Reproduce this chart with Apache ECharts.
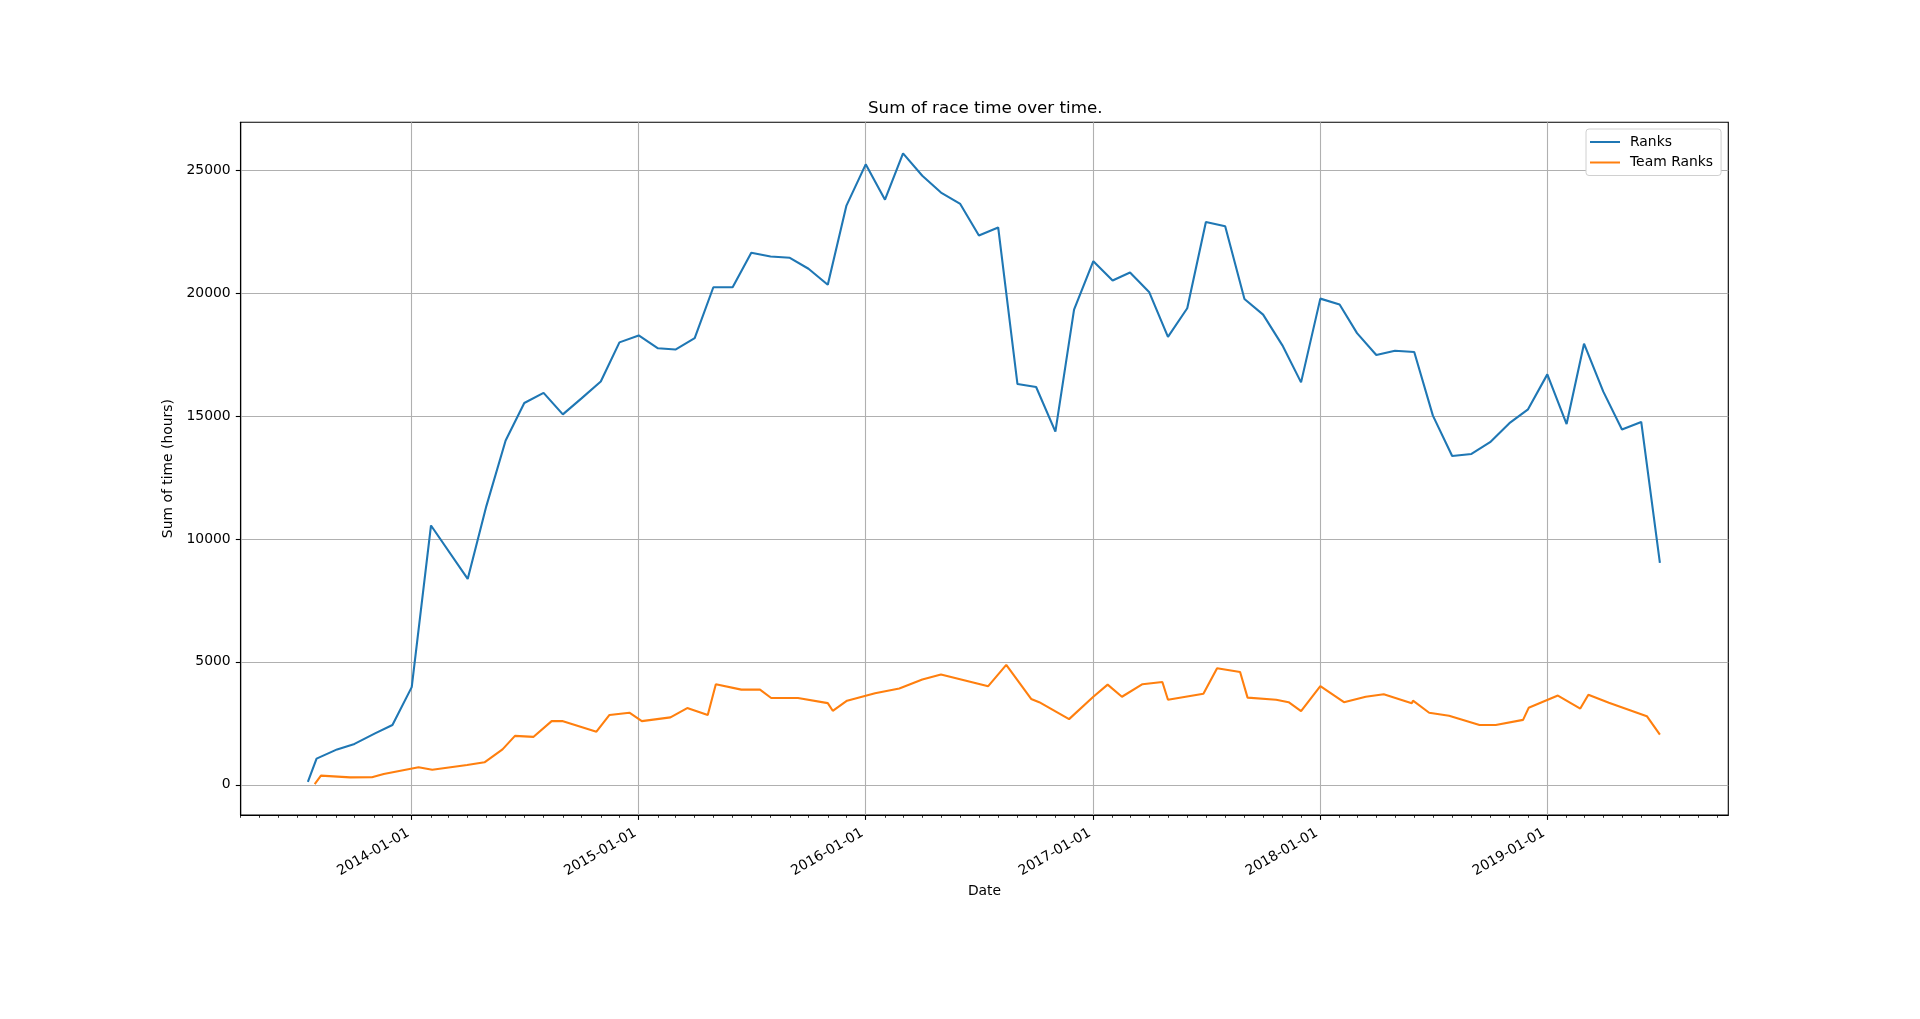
<!DOCTYPE html>
<html>
<head>
<meta charset="utf-8">
<script src="https://cdn.jsdelivr.net/npm/echarts@6/dist/echarts.min.js"></script>
<style>
html,body{margin:0;padding:0;background:#fff;}
#chart{width:1920px;height:1019px;}
</style>
</head>
<body>
<div id="chart"></div>
<script>
const rankDates = ['2013-07-18','2013-08-01','2013-09-03','2013-10-01','2013-11-03','2013-12-01',
  '2014-01-01','2014-02-01','2014-04-01','2014-05-01','2014-06-01','2014-07-01','2014-08-01','2014-09-01','2014-10-01','2014-11-01','2014-12-01',
  '2015-01-01','2015-02-01','2015-03-01','2015-04-01','2015-05-01','2015-06-01','2015-07-01','2015-08-01','2015-09-01','2015-10-01','2015-11-01','2015-12-01',
  '2016-01-01','2016-02-01','2016-03-01','2016-04-01','2016-05-01','2016-06-01','2016-07-01','2016-08-01','2016-09-01','2016-10-01','2016-11-01','2016-12-01',
  '2017-01-01','2017-02-01','2017-03-01','2017-04-01','2017-05-01','2017-06-01','2017-07-01','2017-08-01','2017-09-01','2017-10-01','2017-11-01','2017-12-01',
  '2018-01-01','2018-02-01','2018-03-01','2018-04-01','2018-05-01','2018-06-01','2018-07-01','2018-08-01','2018-09-01','2018-10-01','2018-11-01','2018-12-01',
  '2019-01-01','2019-02-01','2019-03-01','2019-04-01','2019-05-01','2019-06-01','2019-07-01'];
const rankValues = [120,1062,1438,1661,2089,2432,
  3973,10548,8374,11336,14007,15531,15942,15068,15719,16404,17997,
  18280,17757,17705,18168,20240,20240,21644,21490,21438,20993,20342,23562,
  25240,23801,25685,24777,24092,23630,22346,22671,16301,16182,14366,19332,
  21301,20514,20839,20034,18219,19384,22894,22723,19760,19127,17877,16370,
  19777,19538,18373,17483,17654,17603,15017,13373,13459,13938,14709,15274,
  16695,14675,17945,15993,14452,14760,9024];

const teamDates = ['2013-07-29','2013-08-08','2013-09-24','2013-10-29','2013-11-17',
  '2014-01-12','2014-02-03','2014-03-31','2014-04-28','2014-05-27','2014-06-16','2014-07-16','2014-08-14','2014-08-31','2014-10-25','2014-11-15','2014-12-17',
  '2015-01-06','2015-02-21','2015-03-20','2015-04-22','2015-05-05','2015-06-15','2015-07-15','2015-08-02','2015-09-14','2015-11-01','2015-11-09','2015-12-02',
  '2016-01-16','2016-02-24','2016-04-01','2016-05-01','2016-07-16','2016-08-14','2016-09-23','2016-10-06','2016-11-23',
  '2017-01-01','2017-01-24','2017-02-16','2017-03-21','2017-04-22','2017-05-01','2017-06-27','2017-07-19','2017-08-25','2017-09-06','2017-10-22','2017-11-11','2017-12-01',
  '2018-01-01','2018-02-08','2018-03-15','2018-04-13','2018-05-28','2018-05-30','2018-06-25','2018-07-27','2018-09-14','2018-10-10','2018-11-23','2018-12-02',
  '2019-01-18','2019-02-23','2019-03-08','2019-04-10','2019-06-10','2019-07-01'];
const teamValues = [30,370,300,305,440,
  712,614,805,915,1440,1990,1950,2590,2590,2160,2840,2930,
  2590,2740,3120,2840,4090,3870,3870,3530,3530,3320,3010,3420,
  3720,3920,4280,4490,4010,4880,3490,3360,2670,
  3580,4075,3580,4090,4180,3460,3700,4740,4590,3545,3460,3360,3000,
  4010,3360,3580,3680,3320,3420,2930,2810,2430,2430,2640,3130,
  3630,3100,3660,3340,2790,2040];

const yTicks = [0,5000,10000,15000,20000,25000];
const yearTicks = ['2014-01-01','2015-01-01','2016-01-01','2017-01-01','2018-01-01','2019-01-01'];
const xMinDate = '2013-04-01';
const xMaxDate = '2019-10-19';
const yMin = -1230, yMax = 26950;

const ts = d => Date.parse(d);
const rankData = rankDates.map((d,i)=>[ts(d), rankValues[i]]);
const teamData = teamDates.map((d,i)=>[ts(d), teamValues[i]]);
const yearTs = yearTicks.map(ts);
const monthTs = [];
for (let y=2013; y<=2019; y++) for (let m=0; m<12; m++) {
  const t = Date.UTC(y,m,1);
  if (t >= ts(xMinDate) && t <= ts(xMaxDate)) monthTs.push(t);
}
function fmt(v){
  const d = new Date(v);
  const p = n => (n<10?'0':'')+n;
  return d.getUTCFullYear()+'-'+p(d.getUTCMonth()+1)+'-'+p(d.getUTCDate());
}
const FONT = 'DejaVu Sans';
const chart = echarts.init(document.getElementById('chart'), null, {renderer:'canvas'});
chart.setOption({
  animation:false,
  backgroundColor:'#fff',
  textStyle:{fontFamily:FONT},
  title:{text:'Sum of race time over time.', left:868, top:100, padding:0,
    textStyle:{fontFamily:FONT,fontSize:16.7,fontWeight:'normal',color:'#000'}},
  legend:{orient:'vertical', left:1586, top:129, padding:[6,8,6,4], itemGap:6.5,
    itemWidth:30, itemHeight:2, icon:'rect',
    borderColor:'#d0d0d0', borderWidth:1, borderRadius:3, backgroundColor:'#fff',
    textStyle:{fontFamily:FONT,fontSize:13.9,color:'#000',padding:[0,0,0,5]},
    data:['Ranks','Team Ranks']},
  grid:{left:240.7, right:191.7, top:122.3, bottom:204, show:true, borderColor:'#000', borderWidth:1.1, backgroundColor:'transparent'},
  xAxis:[{
    type:'value', min:ts(xMinDate), max:ts(xMaxDate), position:'bottom',
    name:'Date', nameLocation:'middle', nameGap:66,
    nameTextStyle:{fontFamily:FONT,fontSize:13.9,color:'#000'},
    axisLine:{show:true,onZero:false,lineStyle:{color:'#000',width:1.1}},
    axisTick:{show:true, customValues:yearTs, length:4.9, lineStyle:{color:'#000',width:1.1}},
    axisLabel:{show:true, customValues:yearTs, rotate:30, margin:15, formatter:fmt,
      fontFamily:FONT, fontSize:13.9, color:'#000', padding:[0,4,0,0]},
    splitLine:{show:true, lineStyle:{color:'#b0b0b0', width:1.1}}
  },{
    type:'value', min:ts(xMinDate), max:ts(xMaxDate), position:'bottom',
    axisLine:{show:false,onZero:false},
    axisTick:{show:true, customValues:monthTs, length:2.8, lineStyle:{color:'#000',width:0.8}},
    axisLabel:{show:false},
    splitLine:{show:false}
  }],
  yAxis:{
    type:'value', min:yMin, max:yMax,
    name:'Sum of time (hours)', nameLocation:'middle', nameGap:51,
    nameTextStyle:{fontFamily:FONT,fontSize:13.9,color:'#000'},
    axisLine:{show:true,onZero:false,lineStyle:{color:'#000',width:1.1}},
    axisTick:{show:true, customValues:yTicks, length:4.9, lineStyle:{color:'#000',width:1.1}},
    axisLabel:{show:true, customValues:yTicks, margin:10, formatter:v=>String(Math.round(v)),
      fontFamily:FONT, fontSize:13.9, color:'#000'},
    splitLine:{show:true, lineStyle:{color:'#b0b0b0', width:1.1}}
  },
  series:[
    {name:'Ranks', type:'line', data:rankData, showSymbol:false, symbol:'none', color:'#1f77b4',
      lineStyle:{width:2.1,color:'#1f77b4'}, itemStyle:{color:'#1f77b4'}},
    {name:'Team Ranks', type:'line', data:teamData, showSymbol:false, symbol:'none', color:'#ff7f0e',
      lineStyle:{width:2.1,color:'#ff7f0e'}, itemStyle:{color:'#ff7f0e'}}
  ]
});
</script>
</body>
</html>
